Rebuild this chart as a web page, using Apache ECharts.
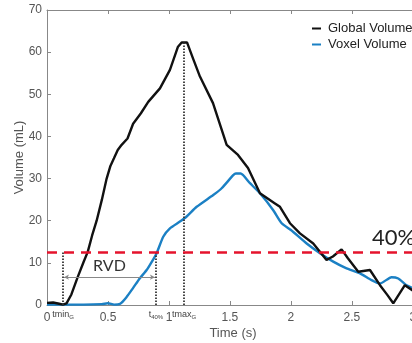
<!DOCTYPE html>
<html>
<head>
<meta charset="utf-8">
<script src="https://cdn.jsdelivr.net/npm/echarts@6/dist/echarts.min.js"></script>
<style>
  html, body { margin: 0; padding: 0; background: #fff; }
  #main { width: 412px; height: 343px; }
</style>
</head>
<body>
<div id="main"></div>
<script>
// Global volume curve (black)
var globalT = [0, 0.05, 0.1, 0.13, 0.16, 0.2, 0.25, 0.3, 0.334, 0.37, 0.407, 0.45, 0.489, 0.52, 0.549, 0.58, 0.612, 0.66, 0.706, 0.77, 0.83, 0.926, 1.008, 1.074, 1.104, 1.148, 1.2, 1.254, 1.361, 1.473, 1.566, 1.648, 1.746, 1.869, 1.91, 1.992, 2.074, 2.183, 2.292, 2.344, 2.415, 2.467, 2.552, 2.648, 2.73, 2.79, 2.839, 2.934, 3.0];
var globalV = [0.5, 0.6, 0.3, 0.1, 0.4, 2.5, 6.5, 10.2, 12.6, 16.5, 20, 25, 30, 33, 34.8, 36.8, 38, 39.5, 43, 45.5, 48.2, 51.4, 55.8, 61.3, 62.3, 62.3, 58.3, 54.2, 47.9, 38, 35.6, 32.5, 26.5, 24.1, 23.3, 19.4, 17.0, 14.6, 10.7, 11.5, 13.2, 11.1, 7.9, 8.3, 4.7, 2.4, 0.4, 4.7, 3.4];

// Voxel volume curve (blue)
var voxelT = [0, 0.3, 0.45, 0.5, 0.55, 0.6, 0.65, 0.705, 0.76, 0.817, 0.86, 0.899, 0.953, 1.008, 1.09, 1.145, 1.227, 1.363, 1.432, 1.527, 1.549, 1.588, 1.664, 1.746, 1.855, 1.924, 2.0, 2.129, 2.238, 2.347, 2.456, 2.566, 2.661, 2.73, 2.825, 2.88, 2.948, 3.0];
var voxelV = [0.1, 0.1, 0.2, 0.4, 0.1, 0.3, 1.8, 4.0, 6.3, 8.3, 10.3, 12.3, 16.2, 18.2, 19.8, 21.0, 23.3, 26.1, 27.7, 30.8, 31.2, 31.2, 28.9, 26.5, 22.5, 19.4, 17.8, 14.6, 12.3, 10.3, 8.7, 7.5, 5.9, 5.1, 6.6, 6.3, 4.7, 4.0];

// annotations
var threshold40 = 12.6;   // 40% level (mL)
var tMinG = 0.131;
var t40 = 0.893;
var tMaxG = 1.123;
var peakG = 62.3;
var rvdLevel = 6.6;
var rvdStart = 0.139;
var rvdEnd = 0.885;

var xTicks = { min: 0, max: 3.05, interval: 0.5 };
var yTicks = { min: 0, max: 70, interval: 10 };

function pairs(t, v) {
  return t.map(function (x, i) { return [x, v[i]]; });
}

var chart = echarts.init(document.getElementById("main"));

var dotStyle = { color: "#333", width: 1.8, type: [1.5, 1.5] };
var subLabel = function (main, sub) {
  return {
    show: true,
    position: "start",
    distance: 4,
    formatter: "{a|" + main + "}{b|" + sub + "}",
    rich: {
      a: { fontSize: 9, color: "#444", fontFamily: "Liberation Sans" },
      b: { fontSize: 6, color: "#444", fontFamily: "Liberation Sans", padding: [5, 0, 0, 0] },
    },
  };
};

var option = {
  animation: false,
  grid: { left: 47, top: 10, right: -7, bottom: 38, outerBoundsMode: "none", containLabel: false },
  legend: {
    orient: "vertical",
    left: 307,
    top: 17,
    itemWidth: 9,
    itemHeight: 2,
    itemGap: 3,
    icon: "rect",
    textStyle: { fontSize: 13, color: "#222", fontFamily: "Liberation Sans", padding: [0, 0, 0, 2] },
    data: ["Global Volume", "Voxel Volume"],
  },
  xAxis: [
    {
      type: "value",
      min: xTicks.min,
      max: xTicks.max,
      interval: xTicks.interval,
      name: "Time (s)",
      nameLocation: "middle",
      nameGap: 22,
      nameMoveOverlap: false,
      nameTextStyle: { fontSize: 13, color: "#555", fontFamily: "Liberation Sans" },
      axisLine: { lineStyle: { color: "#888", width: 1 } },
      axisTick: { inside: true, length: 4, lineStyle: { color: "#888" } },
      axisLabel: { color: "#555", fontSize: 12, margin: 7, showMaxLabel: false, fontFamily: "Liberation Sans" },
      splitLine: { show: false },
    },
    {
      type: "value",
      position: "top",
      min: xTicks.min,
      max: xTicks.max,
      interval: xTicks.interval,
      axisLine: { lineStyle: { color: "#888", width: 1 } },
      axisTick: { inside: true, length: 4, lineStyle: { color: "#888" } },
      axisLabel: { show: false },
      splitLine: { show: false },
    },
  ],
  yAxis: {
    type: "value",
    min: yTicks.min,
    max: yTicks.max,
    interval: yTicks.interval,
    name: "Volume (mL)",
    nameLocation: "middle",
    nameGap: 21,
    nameMoveOverlap: false,
    nameTextStyle: { fontSize: 13, color: "#555", fontFamily: "Liberation Sans" },
    axisLine: { show: true, lineStyle: { color: "#888", width: 1 } },
    axisTick: { show: true, inside: true, length: 4, lineStyle: { color: "#888" } },
    axisLabel: { color: "#555", fontSize: 12, margin: 5, fontFamily: "Liberation Sans" },
    splitLine: { show: false },
  },
  series: [
    {
      name: "Global Volume",
      type: "line",
      color: "#111",
      showSymbol: false,
      lineStyle: { width: 2.4, color: "#111" },
      data: pairs(globalT, globalV),
      z: 3,
      markLine: {
        silent: true,
        symbol: ["none", "none"],
        data: [
          [
            { coord: [tMinG, 0], lineStyle: dotStyle, label: subLabel("tmin", "G") },
            { coord: [tMinG, threshold40] },
          ],
          [
            { coord: [t40, 0], lineStyle: dotStyle, label: subLabel("t", "40%") },
            { coord: [t40, threshold40] },
          ],
          [
            { coord: [tMaxG, 0], lineStyle: dotStyle, label: subLabel("tmax", "G") },
            { coord: [tMaxG, peakG] },
          ],
        ],
      },
    },
    {
      name: "Voxel Volume",
      type: "line",
      color: "#1b80c4",
      showSymbol: false,
      smooth: 0.2,
      lineStyle: { width: 2.4, color: "#1b80c4" },
      data: pairs(voxelT, voxelV),
      z: 2,
      markLine: {
        silent: true,
        symbol: ["none", "none"],
        data: [
          {
            yAxis: threshold40,
            lineStyle: { color: "#e5132c", width: 2.5, type: [10, 7] },
            label: { show: false },
          },
          [
            {
              coord: [rvdStart, rvdLevel],
              symbol: "arrow",
              symbolSize: [4, 5],
              lineStyle: { color: "#888", width: 1, type: "solid" },
              label: {
                show: true,
                position: "middle",
                distance: 3,
                formatter: "RVD",
                fontSize: 16,
                color: "#333",
                fontFamily: "Lato",
              },
            },
            { coord: [rvdEnd, rvdLevel], symbol: "arrow", symbolSize: [4, 5] },
          ],
        ],
      },
    },
  ],
  graphic: [
    {
      type: "text",
      left: 372,
      top: 227,
      style: { text: "40%", fontSize: 22, fill: "#222", fontFamily: "Lato" },
    },
  ],
};

chart.setOption(option);
</script>
</body>
</html>
